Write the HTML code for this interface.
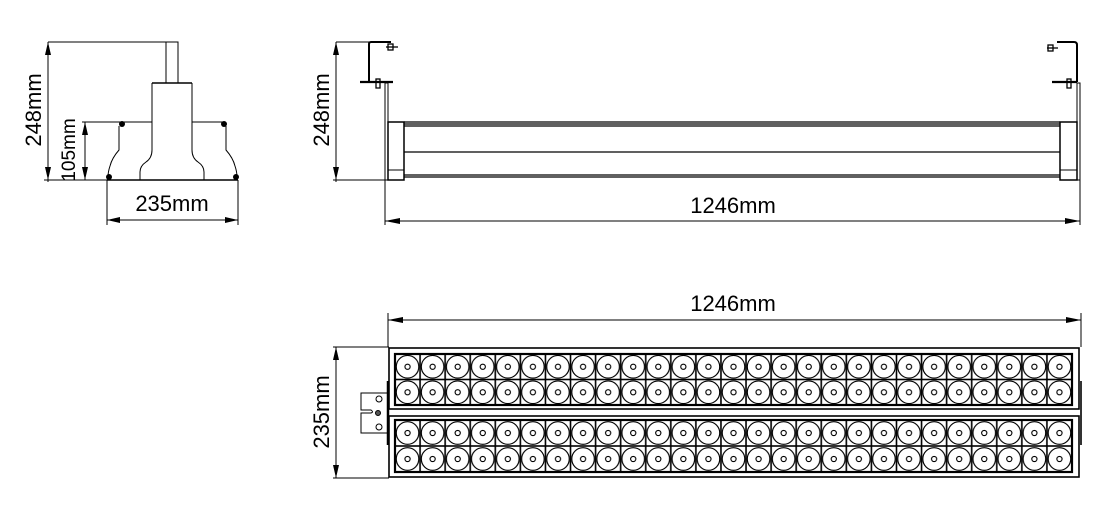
<!DOCTYPE html>
<html><head><meta charset="utf-8"><style>
html,body{margin:0;padding:0;background:#fff;}
svg{display:block;}
text{font-family:"Liberation Sans",Arial,sans-serif;font-size:22px;fill:#000;}
</style></head><body>
<svg width="1113" height="515" viewBox="0 0 1113 515" xmlns="http://www.w3.org/2000/svg">
<defs>
<pattern id="led" patternUnits="userSpaceOnUse" x="395" y="354" width="25.074" height="25.5">
<rect x="0" y="0" width="25.074" height="25.5" fill="#fff" stroke="#000" stroke-width="1.6"/>
<circle cx="12.54" cy="12.75" r="11.3" fill="#fff" stroke="#000" stroke-width="1.2"/>
<circle cx="12.54" cy="12.75" r="2.6" fill="none" stroke="#000" stroke-width="1.1"/>
</pattern>
<pattern id="led2" patternUnits="userSpaceOnUse" x="395" y="420" width="25.074" height="26">
<rect x="0" y="0" width="25.074" height="26" fill="#fff" stroke="#000" stroke-width="1.6"/>
<circle cx="12.54" cy="13" r="11.3" fill="#fff" stroke="#000" stroke-width="1.2"/>
<circle cx="12.54" cy="13" r="2.6" fill="none" stroke="#000" stroke-width="1.1"/>
</pattern>
</defs>
<g fill="none" stroke="#000" stroke-width="1">
<!-- FRONT VIEW -->
<line x1="48" y1="42" x2="166" y2="42"/>
<line x1="48" y1="42" x2="48" y2="182"/>
<line x1="44" y1="180" x2="107" y2="180"/>
<line x1="85" y1="122" x2="85" y2="180"/>
<line x1="82" y1="122" x2="120" y2="122"/>
<rect x="166" y="42" width="12" height="41"/>
<line x1="152" y1="83" x2="192" y2="83" stroke-width="1.4"/>
<path d="M152 83 V150 Q152 158 146 162 Q140 166 140 172 V180"/>
<path d="M192 83 V150 Q192 158 198 162 Q204 166 204 172 V180"/>
<line x1="120" y1="122" x2="152" y2="122"/>
<line x1="192" y1="122" x2="225" y2="122"/>
<path d="M119 126 V150 Q112 158 110 166 Q108 172 108 177"/>
<path d="M226 126 V150 Q233 158 235 166 Q237 172 237 177"/>
<line x1="107" y1="180" x2="238" y2="180" stroke-width="1.4"/>
<line x1="107" y1="180" x2="107" y2="225"/>
<line x1="238" y1="180" x2="238" y2="225"/>
<line x1="107" y1="220" x2="238" y2="220"/>
<!-- SIDE VIEW -->
<line x1="336" y1="42" x2="369" y2="42"/>
<line x1="336" y1="42" x2="336" y2="182"/>
<line x1="333" y1="180" x2="386" y2="180"/>
<path d="M369 82 V44 Q369 42 371 42 H391" stroke-width="2"/>
<line x1="360" y1="82" x2="393" y2="82" stroke-width="2.2"/>
<rect x="388" y="44" width="5" height="6" stroke-width="1.3"/><line x1="386" y1="47" x2="398" y2="47" stroke-width="1.3"/>
<rect x="376" y="79" width="4" height="9" stroke-width="1.3"/>
<rect x="385" y="83" width="3" height="97"/>
<rect x="388" y="122" width="16" height="58" stroke-width="1.5"/>
<line x1="388" y1="170" x2="404" y2="170"/>
<line x1="404" y1="122" x2="1060" y2="122" stroke-width="1.2"/>
<line x1="404" y1="124" x2="1060" y2="124" stroke-width="1.2"/>
<line x1="404" y1="126" x2="1060" y2="126" stroke-width="1.2"/>
<line x1="404" y1="152" x2="1060" y2="152" stroke-width="1.2"/>
<line x1="404" y1="175" x2="1060" y2="175" stroke-width="1.2"/>
<line x1="404" y1="177" x2="1060" y2="177" stroke-width="1.2"/>
<rect x="1060" y="122" width="17" height="58" stroke-width="1.5"/>
<line x1="1060" y1="170" x2="1077" y2="170"/>
<rect x="1077" y="83" width="3" height="97"/>
<path d="M1077 82 V45 Q1077 42 1074 42 H1057" stroke-width="2"/>
<line x1="1052" y1="82" x2="1077" y2="82" stroke-width="2.2"/>
<rect x="1048" y="45" width="5" height="6" stroke-width="1.3"/><line x1="1047" y1="48" x2="1058" y2="48" stroke-width="1.3"/>
<rect x="1067" y="79" width="4" height="9" stroke-width="1.3"/>
<line x1="385" y1="180" x2="385" y2="225"/>
<line x1="1080" y1="180" x2="1080" y2="225"/>
<line x1="385" y1="221" x2="1080" y2="221"/>
<!-- TOP VIEW -->
<line x1="388" y1="313" x2="388" y2="347"/>
<line x1="1081" y1="313" x2="1081" y2="347"/>
<line x1="388" y1="320" x2="1081" y2="320"/>
<line x1="333" y1="347" x2="389" y2="347"/>
<line x1="333" y1="478" x2="389" y2="478"/>
<line x1="336" y1="347" x2="336" y2="478"/>
<rect x="389" y="348" width="690" height="61" stroke-width="1.6"/>
<rect x="389" y="416" width="690" height="61" stroke-width="1.6"/>
<line x1="388" y1="381" x2="388" y2="445" stroke-width="2.5"/>
<line x1="1081" y1="381" x2="1081" y2="445" stroke-width="1.6"/>
<path d="M388 393 H361 V410 H371 Q374 412 371 413 H361 V433 H388"/>
<circle cx="379" cy="399" r="3"/><circle cx="378" cy="413" r="2.5" fill="#555"/><circle cx="379" cy="427" r="3"/>
</g>
<rect x="395" y="354" width="677" height="51" fill="url(#led)" stroke="#000" stroke-width="2.2"/>
<rect x="395" y="420" width="677" height="52" fill="url(#led2)" stroke="#000" stroke-width="2.2"/>
<g fill="#000" stroke="none">
<circle cx="122" cy="124" r="3"/><circle cx="224" cy="124" r="3"/>
<circle cx="109" cy="177" r="3"/><circle cx="236" cy="177" r="3"/>
<path d="M48 42 l-3 13 h6z"/><path d="M48 180 l-3 -13 h6z"/>
<path d="M85 122 l-3 13 h6z"/><path d="M85 180 l-3 -13 h6z"/>
<path d="M107 220 l13 -3 v6z"/><path d="M238 220 l-13 -3 v6z"/>
<path d="M336 42 l-3 13 h6z"/><path d="M336 180 l-3 -13 h6z"/>
<path d="M385 221 l15 -3 v6z"/><path d="M1080 221 l-15 -3 v6z"/>
<path d="M388 320 l15 -3 v6z"/><path d="M1081 320 l-15 -3 v6z"/>
<path d="M336 347 l-3 13 h6z"/><path d="M336 478 l-3 -13 h6z"/>
</g>
<text x="172" y="211" text-anchor="middle">235mm</text>
<text x="733" y="213" text-anchor="middle">1246mm</text>
<text x="733" y="311" text-anchor="middle">1246mm</text>
<text transform="translate(41,110) rotate(-90)" text-anchor="middle">248mm</text>
<text transform="translate(329,110) rotate(-90)" text-anchor="middle">248mm</text>
<text transform="translate(329,412) rotate(-90)" text-anchor="middle">235mm</text>
<text transform="translate(75,150) rotate(-90)" text-anchor="middle" style="font-size:19px">105mm</text>
</svg>
</body></html>
